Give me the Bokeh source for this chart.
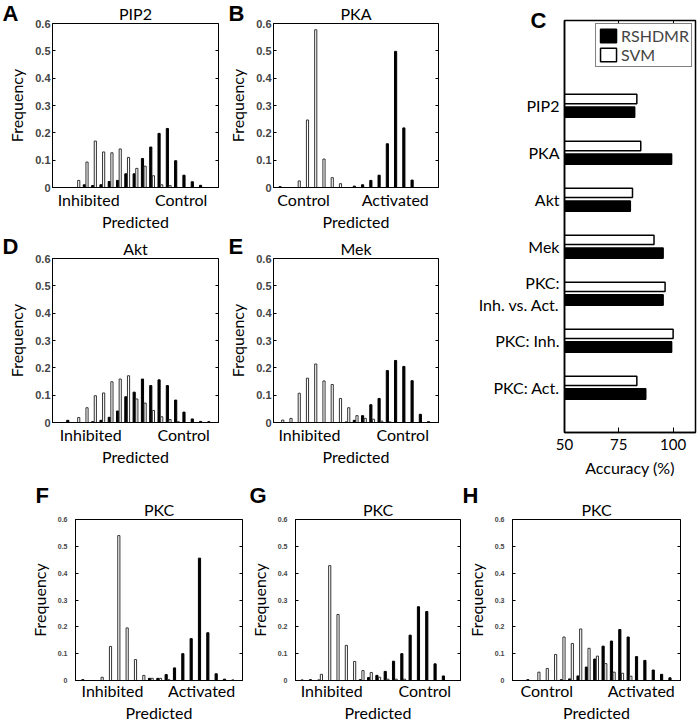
from bokeh.plotting import figure
from bokeh.layouts import row, column
from bokeh.models import (ColumnDataSource, Range1d, FixedTicker, LinearAxis, Title,
                          Legend, LegendItem)
from bokeh.transform import dodge
from bokeh.embed import file_html
from bokeh.resources import INLINE

# ---------------- data ----------------
YTICKS = [0, 0.1, 0.2, 0.3, 0.4, 0.5, 0.6]

A_title = "PIP2"
A_labels = ["Inhibited", "Control"]
A_black = [0, 0.010, 0.007, 0.010, 0.022, 0.026, 0.050, 0.050, 0.106, 0.148, 0.198, 0.216, 0.098, 0.045, 0.021, 0.008]
A_white = [0.026, 0.093, 0.170, 0.130, 0.127, 0.141, 0.110, 0.070, 0.078, 0.043, 0.010, 0.007, 0, 0, 0, 0]

B_title = "PKA"
B_labels = ["Control", "Activated"]
B_black = [0.003, 0, 0, 0, 0, 0, 0, 0, 0, 0.005, 0.010, 0.026, 0.045, 0.160, 0.498, 0.218, 0.027]
B_white = [0, 0, 0.024, 0.247, 0.577, 0.104, 0.036, 0.014, 0, 0, 0, 0, 0, 0, 0, 0, 0]

D_title = "Akt"
D_labels = ["Inhibited", "Control"]
D_black = [0.008, 0, 0, 0.003, 0.008, 0.019, 0.042, 0.094, 0.111, 0.159, 0.135, 0.156, 0.135, 0.082, 0.038, 0.013, 0.004, 0.003]
D_white = [0, 0.018, 0.054, 0.098, 0.108, 0.149, 0.159, 0.171, 0.086, 0.071, 0.044, 0.021, 0.011, 0.003, 0, 0, 0, 0]

E_title = "Mek"
E_labels = ["Inhibited", "Control"]
E_black = [0, 0, 0, 0, 0, 0, 0, 0, 0.002, 0.008, 0.025, 0.065, 0.088, 0.190, 0.227, 0.205, 0.153, 0.030, 0.003]
E_white = [0.009, 0.015, 0.107, 0.162, 0.214, 0.152, 0.139, 0.088, 0.054, 0.025, 0.015, 0.012, 0.005, 0.002, 0, 0, 0, 0, 0]

F_title = "PKC"
F_labels = ["Inhibited", "Activated"]
F_black = [0.003, 0, 0, 0, 0, 0, 0, 0, 0.008, 0.008, 0.022, 0.047, 0.100, 0.156, 0.456, 0.178, 0.025, 0.005, 0.002]
F_white = [0, 0, 0.012, 0.127, 0.540, 0.196, 0.078, 0.019, 0.008, 0.008, 0.003, 0, 0, 0, 0, 0, 0, 0, 0]

G_title = "PKC"
G_labels = ["Inhibited", "Control"]
G_black = [0.002, 0.003, 0.002, 0, 0, 0, 0, 0.003, 0.011, 0.019, 0.034, 0.072, 0.100, 0.169, 0.275, 0.257, 0.062, 0.017]
G_white = [0, 0, 0.023, 0.428, 0.246, 0.131, 0.071, 0.037, 0.030, 0.012, 0.005, 0.005, 0.005, 0, 0, 0, 0, 0]

H_title = "PKC"
H_labels = ["Control", "Activated"]
H_black = [0.003, 0, 0, 0, 0.003, 0.006, 0.017, 0.050, 0.080, 0.128, 0.147, 0.190, 0.162, 0.089, 0.075, 0.039, 0.023, 0.010]
H_white = [0, 0.031, 0.045, 0.097, 0.162, 0.138, 0.192, 0.120, 0.091, 0.063, 0.031, 0.027, 0.016, 0, 0, 0, 0, 0]

C_categories = ["PIP2", "PKA", "Akt", "Mek", "PKC:\nInh. vs. Act.", "PKC: Inh.", "PKC: Act."]
C_rshdmr = [82.3, 99.3, 80.3, 95.4, 95.4, 99.3, 87.4]
C_svm = [83.3, 85.1, 81.3, 91.2, 96.3, 100.0, 83.3]
C_xticks = [50, 75, 100]

FONT = "Lato"
NUMFONT = "Liberation Sans"


def letter(p, txt, dx, standoff):
    p.add_layout(Title(text=txt, align="left", offset=dx, standoff=standoff,
                       text_font=NUMFONT, text_font_style="bold", text_font_size="22px",
                       text_color="black"), "above")


def name_title(p, txt):
    p.add_layout(Title(text=txt, align="center", standoff=1, text_font=FONT,
                       text_font_size="16px", text_font_style="normal",
                       text_color="black"), "above")


def hist(title, labels, black, white, xr, tpos, geom, let, small=False):
    w, h, l, r, t, b = geom
    p = figure(width=w, height=h, min_border_left=l, min_border_right=r,
               min_border_top=t, min_border_bottom=b,
               x_range=Range1d(*xr), y_range=Range1d(0, 0.6),
               output_backend="svg", toolbar_location=None, title=None)
    p.grid.visible = False
    p.outline_line_color = "black"
    p.outline_line_alpha = 1.0
    p.background_fill_color = "white"
    p.border_fill_color = "white"
    src = ColumnDataSource(dict(bin=list(range(len(black))), black=black, white=white))
    p.vbar(x=dodge("bin", -0.16, range=p.x_range), top="black", bottom=0, width=0.26,
           fill_color="black", line_color="black", line_width=1, source=src)
    p.vbar(x=dodge("bin", 0.16, range=p.x_range), top="white", bottom=0, width=0.26,
           fill_color="white", line_color="#333333", line_width=1, source=src)

    xa = p.xaxis[0]
    xa.ticker = FixedTicker(ticks=tpos)
    xa.major_label_overrides = dict(zip(tpos, labels))
    xa.axis_label = "Predicted"
    xa.major_tick_in = 0
    xa.major_tick_out = 0
    xa.axis_line_color = "black"
    xa.major_label_standoff = 0 if small else 2
    xa.axis_label_standoff = 0
    xa.major_label_text_font = FONT
    xa.major_label_text_font_size = "16px"
    xa.major_label_text_color = "black"
    xa.axis_label_text_font = FONT
    xa.axis_label_text_font_size = "16px"
    xa.axis_label_text_font_style = "normal"
    xa.axis_label_text_color = "black"

    ya = p.yaxis[0]
    ya.ticker = FixedTicker(ticks=YTICKS)
    ya.major_label_overrides = {0: "0"}
    ya.axis_label = "Frequency"
    ya.major_tick_in = 3
    ya.major_tick_out = 0
    ya.axis_line_color = "black"
    ya.major_label_text_font = NUMFONT
    ya.major_label_text_font_style = "bold"
    ya.major_label_text_color = "#444444"
    if small:
        ya.major_label_text_font_size = "7px"
        ya.major_label_standoff = 8
        ya.axis_label_standoff = 6
    else:
        ya.major_label_text_font_size = "11px"
        ya.major_label_standoff = 2
        ya.axis_label_standoff = 6
    ya.axis_label_text_font = FONT
    ya.axis_label_text_font_size = "16px"
    ya.axis_label_text_font_style = "normal"
    ya.axis_label_text_color = "black"

    ra = LinearAxis(ticker=FixedTicker(ticks=YTICKS), major_label_text_font_size="1px",
                    major_label_text_color=None,
                    major_tick_in=3, major_tick_out=0, major_label_standoff=0,
                    axis_line_color=None, major_tick_line_color="black")
    p.add_layout(ra, "right")

    name_title(p, title)
    letter(p, let[0], let[1], let[2])
    return p


pA = hist(A_title, A_labels, A_black, A_white, (-3, 17), [1.36, 12.5],
          (225, 233, 52, 7, 23, 40), ("A", -50, -49))
pB = hist(B_title, B_labels, B_black, B_white, (-0.96, 19.04), [2.68, 13.8],
          (230, 233, 47, 17, 23, 40), ("B", -45, -49))
pD = hist(D_title, D_labels, D_black, D_white, (-2, 18), [2.6, 13.8],
          (225, 235, 52, 7, 25, 40), ("D", -50, -44))
pE = hist(E_title, E_labels, E_black, E_white, (-0.96, 19.04), [3.4, 14.7],
          (230, 235, 47, 17, 25, 40), ("E", -45, -44))
pF = hist(F_title, F_labels, F_black, F_white, (-1.04, 19.0), [3.4, 14.1],
          (246, 242, 75, 4, 37, 39), ("F", -40, -20), small=True)
pG = hist(G_title, G_labels, G_black, G_white, (-0.96, 18.9), [3.4, 14.6],
          (215, 242, 48, 1, 37, 39), ("G", -46, -20), small=True)
pH = hist(H_title, H_labels, H_black, H_white, (-2.0, 18.1), [2.1, 13.4],
          (239, 242, 51, 20, 37, 39), ("H", -50, -20), small=True)

# ---------------- panel C ----------------
pC = figure(width=245, height=482, min_border_left=109, min_border_right=5,
            min_border_top=20, min_border_bottom=50,
            x_range=Range1d(50, 110.3), y_range=Range1d(6.96, -1.81),
            output_backend="svg", toolbar_location=None, title=None)
pC.grid.visible = False
pC.outline_line_color = "black"
pC.outline_line_width = 1.5
pC.outline_line_alpha = 1.0
srcC = ColumnDataSource(dict(pos=list(range(len(C_categories))), svm=C_svm, rsh=C_rshdmr))
r_svm = pC.hbar(y=dodge("pos", -0.14, range=pC.y_range), left=50, right="svm", height=0.2,
                fill_color="white", line_color="black", line_width=1.5, source=srcC)
r_rsh = pC.hbar(y=dodge("pos", 0.14, range=pC.y_range), left=50, right="rsh", height=0.22,
                fill_color="black", line_color="black", line_width=1.5, source=srcC)

cx = pC.xaxis[0]
cx.ticker = FixedTicker(ticks=C_xticks)
cx.major_tick_in = 5
cx.major_tick_out = 0
cx.axis_line_color = "black"
cx.axis_line_width = 1.5
cx.major_label_standoff = 6
cx.major_label_text_font = FONT
cx.major_label_text_font_size = "15px"
cx.major_label_text_color = "black"
cx.axis_label = "Accuracy (%)"
cx.axis_label_standoff = 5
cx.axis_label_text_font = FONT
cx.axis_label_text_font_size = "16px"
cx.axis_label_text_font_style = "normal"
cx.axis_label_text_color = "black"

cy = pC.yaxis[0]
cy.ticker = FixedTicker(ticks=list(range(len(C_categories))))
cy.major_label_overrides = dict(zip(range(len(C_categories)), C_categories))
cy.major_tick_in = 0
cy.major_tick_out = 0
cy.axis_line_color = "black"
cy.axis_line_width = 1.5
cy.major_label_standoff = 5
cy.major_label_text_font = FONT
cy.major_label_text_font_size = "16px"
cy.major_label_text_color = "black"

top_ax = LinearAxis(ticker=FixedTicker(ticks=C_xticks), major_label_text_font_size="1px",
                    major_label_text_color=None,
                    major_tick_in=5, major_tick_out=0, major_label_standoff=0,
                    axis_line_color=None, major_tick_line_color="black")
pC.add_layout(top_ax, "above")

legend = Legend(items=[LegendItem(label="RSHDMR", renderers=[r_rsh]),
                       LegendItem(label="SVM", renderers=[r_svm])],
                location="top_right", border_line_color="black", border_line_width=1.5,
                padding=2, spacing=0, margin=3, glyph_width=20, glyph_height=17,
                label_standoff=3, label_text_font=FONT, label_text_font_size="16px",
                label_height=17, background_fill_alpha=1.0)
pC.add_layout(legend)
letter(pC, "C", -34, -25)

layout = column(row(column(row(pA, pB), row(pD, pE)), pC), row(pF, pG, pH))

with open("out.html", "w") as f:
    f.write(file_html(layout, INLINE))
